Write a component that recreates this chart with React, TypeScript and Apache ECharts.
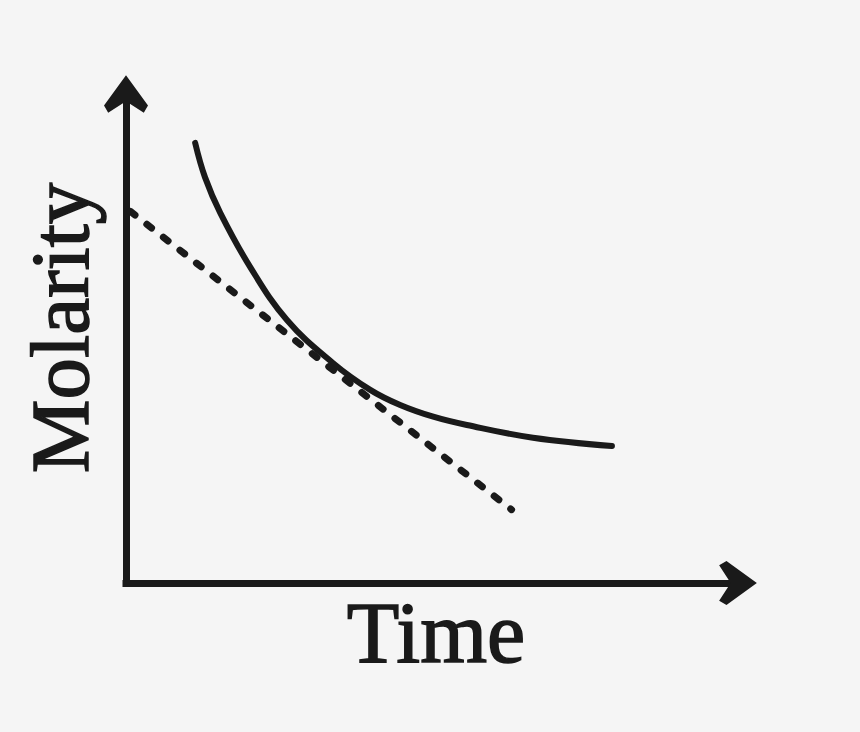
import React, { useEffect, useRef } from "react";
import * as echarts from "echarts";

// Curve: molarity vs time
const curveTime = [1.13, 1.29, 1.54, 2.03, 2.63, 3.38, 3.99, 4.48, 5.02, 5.57, 6.65, 7.94];
const curveMolarity = [9.0, 8.3, 7.57, 6.46, 5.38, 4.5, 3.95, 3.64, 3.4, 3.23, 2.97, 2.8];

// Tangent (dashed) line end points
const tangentTime = [0.07, 6.3];
const tangentMolarity = [7.6, 1.5];

const xLabel = "Time";
const yLabel = "Molarity";

const ARROW = "path://M21,0 L42,29 L38,36 L21,25 L4,36 L0,29 Z";
const INK = "#1a1a1a";

export default function App() {
  const ref = useRef<HTMLDivElement>(null);
  useEffect(() => {
    document.body.style.margin = "0";
    document.body.style.background = "#f5f5f5";
    if (!ref.current) return;
    const chart = echarts.init(ref.current, undefined, { renderer: "svg" });
    const axisCommon = {
      type: "value" as const,
      min: 0,
      max: 10,
      axisTick: { show: false },
      axisLabel: { show: false },
      splitLine: { show: false },
      axisLine: {
        show: true,
        symbol: ["none", ARROW],
        symbolSize: [44, 38],
        lineStyle: { color: INK, width: 7, cap: "square" },
      },
    };
    chart.setOption({
      animation: false,
      backgroundColor: "#f5f5f5",
      grid: { left: 126, right: 122, top: 94, bottom: 149 },
      xAxis: axisCommon,
      yAxis: axisCommon,
      graphic: [
        {
          type: "text",
          x: 60,
          y: 328,
          rotation: Math.PI / 2,
          style: {
            text: yLabel,
            font: "83px 'Liberation Serif', serif",
            fill: INK,
            stroke: INK,
            lineWidth: 1.5,
            textAlign: "center",
            textVerticalAlign: "middle",
          },
        },
        {
          type: "text",
          x: 436,
          y: 633,
          style: {
            text: xLabel,
            font: "86px 'Liberation Serif', serif",
            fill: INK,
            stroke: INK,
            lineWidth: 1.5,
            textAlign: "center",
            textVerticalAlign: "middle",
          },
        },
      ],
      series: [
        {
          type: "line",
          data: curveTime.map((t, i) => [t, curveMolarity[i]]),
          smooth: 0.4,
          symbol: "none",
          lineStyle: { color: INK, width: 6, cap: "round" },
        },
        {
          type: "line",
          data: tangentTime.map((t, i) => [t, tangentMolarity[i]]),
          symbol: "none",
          lineStyle: { color: INK, width: 7, type: [6, 15], cap: "round" },
        },
      ],
    });
    return () => chart.dispose();
  }, []);
  return <div ref={ref} style={{ width: 860, height: 732 }} />;
}
